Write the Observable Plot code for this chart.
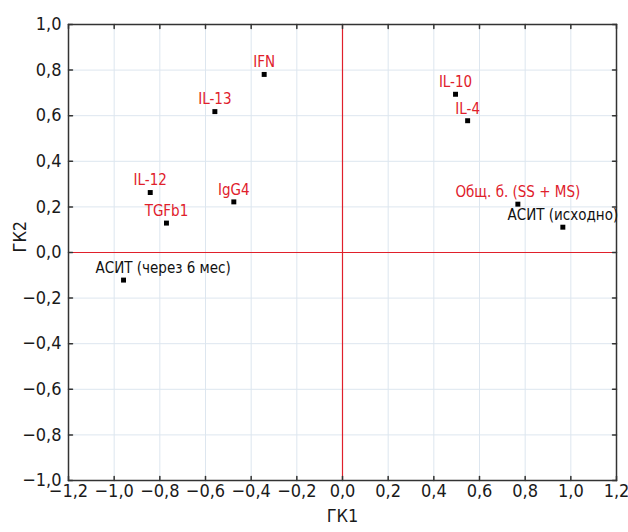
<!DOCTYPE html>
<html>
<head>
<meta charset="utf-8">
<script src="https://cdn.jsdelivr.net/npm/d3@7"></script>
<script src="https://cdn.jsdelivr.net/npm/@observablehq/plot@0.6"></script>
<style>
  html, body { margin: 0; padding: 0; background: #fff; }
  #chart svg { display: block; }
</style>
</head>
<body>
<div id="chart"></div>
<script>
// ---- data ----
const names = ["IFN", "IL-13", "IL-12", "TGFb1", "IgG4", "IL-10", "IL-4",
  "Общ. б. (SS + MS)", "АСИТ (исходно)", "АСИТ (через 6 мес)"];
const gk1 = [-0.343, -0.559, -0.842, -0.771, -0.476, 0.495, 0.548, 0.768, 0.965, -0.959];
const gk2 = [0.781, 0.618, 0.263, 0.129, 0.222, 0.694, 0.578, 0.212, 0.111, -0.121];
const kind = ["показатель", "показатель", "показатель", "показатель", "показатель",
  "показатель", "показатель", "показатель", "группа", "группа"];
const xTicks = [-1.2, -1.0, -0.8, -0.6, -0.4, -0.2, 0.0, 0.2, 0.4, 0.6, 0.8, 1.0, 1.2];
const yTicks = [-1.0, -0.8, -0.6, -0.4, -0.2, 0.0, 0.2, 0.4, 0.6, 0.8, 1.0];
const xTitle = "ГК1";
const yTitle = "ГК2";

const rows = names.map((n, i) => ({name: n, x: gk1[i], y: gk2[i], kind: kind[i]}));
const LEFT_LABEL = "АСИТ (через 6 мес)";

const RED = "#e0202b";
const fmt = d => d.toFixed(1).replace(".", ",").replace("-", "−");
const tickShape = {draw(context, l) { context.moveTo(0, 0); context.lineTo(0, -l); }};
const FONT = "'DejaVu Sans Condensed', 'DejaVu Sans', sans-serif";
const labelColor = d => d.kind === "группа" ? "#111" : RED;

const chart = Plot.plot({
  width: 628,
  height: 532,
  marginLeft: 68,
  marginRight: 12,
  marginTop: 24,
  marginBottom: 52,
  style: {fontFamily: FONT, fontSize: "18px", fontStretch: "condensed", color: "#1a1a1a", background: "#fff"},
  x: {domain: [-1.2, 1.2]},
  y: {domain: [-1.0, 1.0]},
  marks: [
    Plot.gridX(xTicks, {stroke: "#dde6ef", strokeOpacity: 1}),
    Plot.gridY(yTicks, {stroke: "#dde6ef", strokeOpacity: 1}),
    Plot.ruleX([0], {stroke: RED, strokeWidth: 1.2}),
    Plot.ruleY([0], {stroke: RED, strokeWidth: 1.2}),
    Plot.frame({stroke: "#333", strokeWidth: 1.5}),
    Plot.vector(xTicks, {x: d => d, frameAnchor: "bottom", anchor: "start", rotate: 0, length: 4, shape: tickShape, stroke: "#333"}),
    Plot.vector(xTicks, {x: d => d, frameAnchor: "top", anchor: "start", rotate: 180, length: 4, shape: tickShape, stroke: "#333"}),
    Plot.vector(yTicks, {y: d => d, frameAnchor: "left", anchor: "start", rotate: 90, length: 4, shape: tickShape, stroke: "#333"}),
    Plot.vector(yTicks, {y: d => d, frameAnchor: "right", anchor: "start", rotate: -90, length: 4, shape: tickShape, stroke: "#333"}),
    Plot.axisX({ticks: xTicks, tickSize: 0, tickPadding: 4, tickFormat: fmt, label: null, fontSize: 18}),
    Plot.axisY({ticks: yTicks, tickSize: 0, tickPadding: 7, tickFormat: fmt, label: null, fontSize: 18}),
    Plot.text([xTitle], {frameAnchor: "bottom", lineAnchor: "middle", dy: 36, fontSize: 18, fill: "#1a1a1a"}),
    Plot.text([yTitle], {frameAnchor: "left", lineAnchor: "middle", rotate: -90, dx: -48, fontSize: 18, fill: "#1a1a1a"}),
    Plot.dot(rows, {x: "x", y: "y", symbol: "square", r: 2.8, fill: "#000", stroke: null}),
    Plot.text(rows.filter(d => d.name !== LEFT_LABEL), {
      x: "x", y: "y", text: "name", fill: labelColor,
      textAnchor: "middle", dy: -12, lineAnchor: "middle", fontSize: 15
    }),
    Plot.text(rows.filter(d => d.name === LEFT_LABEL), {
      x: "x", y: "y", text: "name", fill: labelColor,
      textAnchor: "start", dx: -28, dy: -12, lineAnchor: "middle", fontSize: 15
    })
  ]
});

document.getElementById("chart").appendChild(chart);
</script>
</body>
</html>
